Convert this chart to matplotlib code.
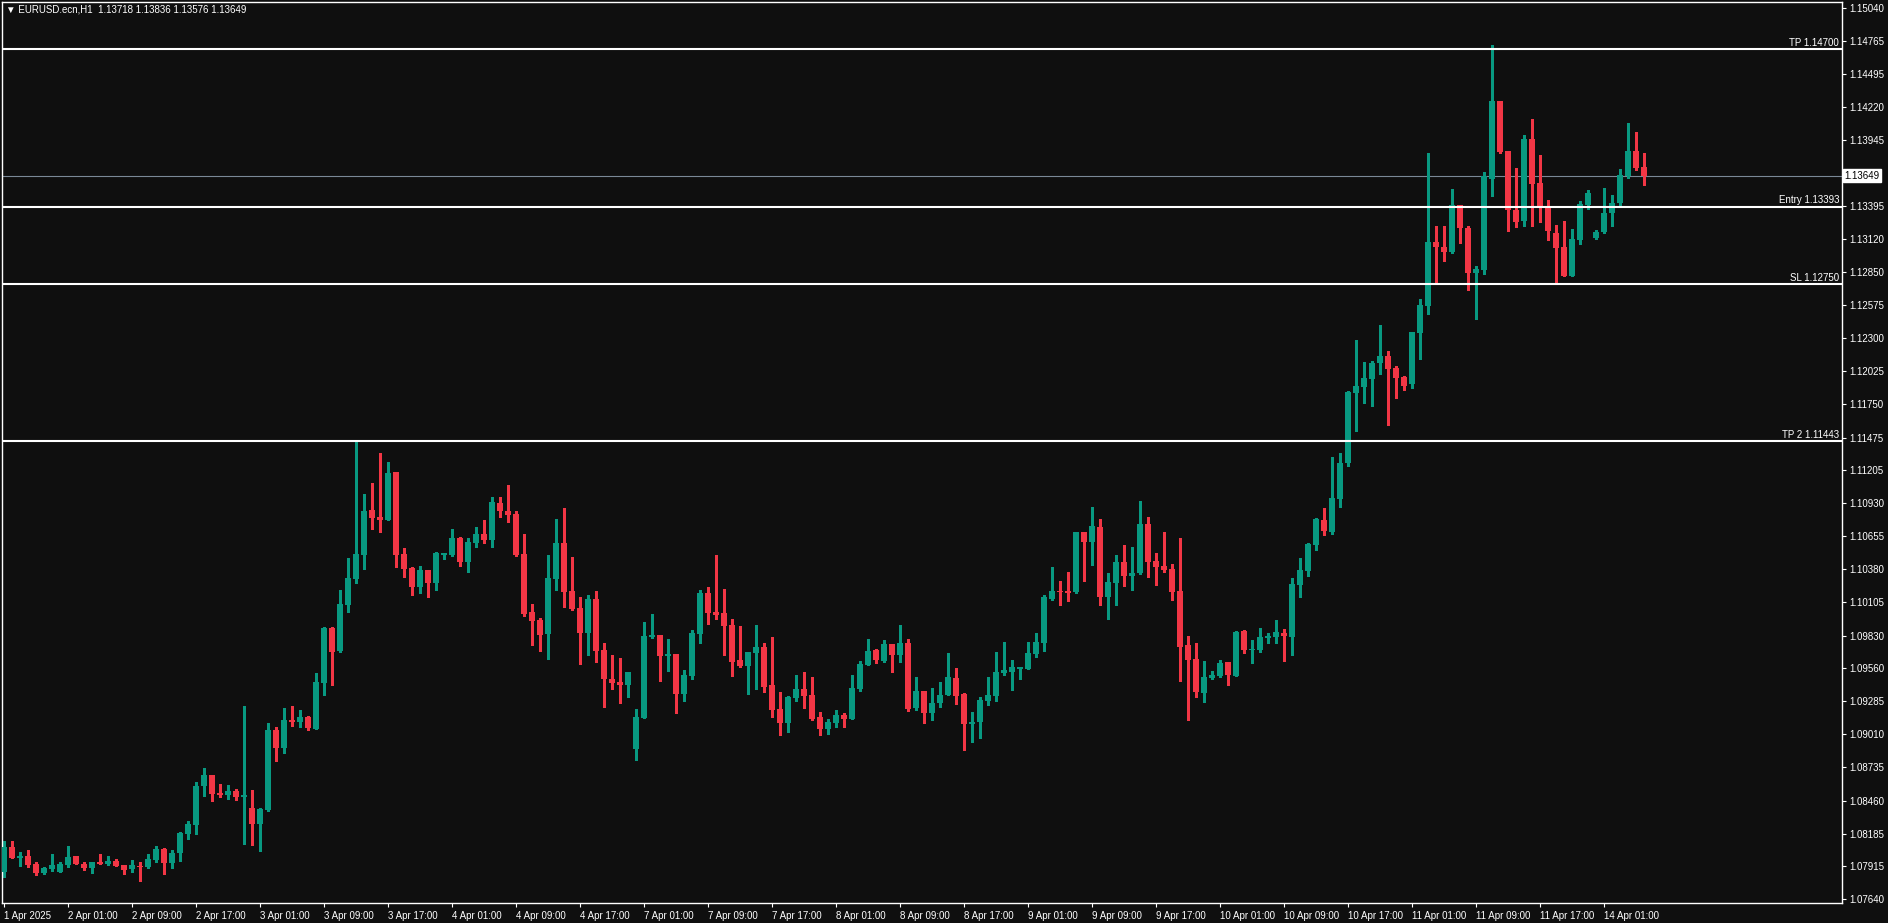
import numpy as np
import matplotlib
matplotlib.use("Agg")
import matplotlib.pyplot as plt

# EURUSD H1 candles (first bar = 1 Apr 17:00)
opens = [1.07870, 1.08075, 1.07984, 1.08000, 1.07934, 1.07859, 1.07892, 1.07867, 1.07926, 1.08000,
         1.07934, 1.07901, 1.07950, 1.07934, 1.07959, 1.07926, 1.07892, 1.07917, 1.07909, 1.07967,
         1.08058, 1.07942, 1.08025, 1.08183, 1.08258, 1.08582, 1.08673, 1.08523, 1.08507, 1.08540,
         1.08490, 1.08399, 1.08266, 1.08382, 1.09047, 1.08897, 1.09130, 1.09113, 1.09155, 1.09055,
         1.09437, 1.09894, 1.09703, 1.10085, 1.10301, 1.10500, 1.10874, 1.10816, 1.10791, 1.11189,
         1.10508, 1.10392, 1.10234, 1.10375, 1.10267, 1.10500, 1.10500, 1.10641, 1.10442, 1.10600,
         1.10674, 1.10624, 1.10932, 1.10865, 1.10840, 1.10508, 1.10027, 1.09960, 1.09844, 1.10301,
         1.10600, 1.10201, 1.10060, 1.09852, 1.10135, 1.09711, 1.09470, 1.09445, 1.09420, 1.08889,
         1.09146, 1.09819, 1.09836, 1.09661, 1.09678, 1.09346, 1.09495, 1.09844, 1.10185, 1.10027,
         1.10019, 1.09919, 1.09628, 1.09578, 1.09686, 1.09736, 1.09421, 1.09221, 1.09105, 1.09313,
         1.09388, 1.09338, 1.09155, 1.09055, 1.09105, 1.09172, 1.09138, 1.09388, 1.09587, 1.09711,
         1.09620, 1.09761, 1.09670, 1.09769, 1.09230, 1.09371, 1.09188, 1.09271, 1.09338, 1.09479,
         1.09346, 1.09097, 1.09113, 1.09288, 1.09329, 1.09520, 1.09529, 1.09554, 1.09554, 1.09678,
         1.09769, 1.10135, 1.10201, 1.10201, 1.10193, 1.10691, 1.10608, 1.10733, 1.10151, 1.10268,
         1.10442, 1.10326, 1.10351, 1.10758, 1.10450, 1.10409, 1.10384, 1.10201, 1.09753, 1.09637,
         1.09354, 1.09479, 1.09495, 1.09612, 1.09495, 1.09869, 1.09711, 1.09711, 1.09811, 1.09819,
         1.09852, 1.09819, 1.10251, 1.10367, 1.10583, 1.10791, 1.10691, 1.10965, 1.11264, 1.11845,
         1.11895, 1.11962, 1.12094, 1.12153, 1.12053, 1.11978, 1.11920, 1.12344, 1.12568, 1.13100,
         1.13058, 1.13017, 1.13407, 1.13216, 1.12842, 1.12867, 1.13623, 1.14270, 1.13855, 1.13365,
         1.13274, 1.13955, 1.13590, 1.13382, 1.13174, 1.13058, 1.12817, 1.13116, 1.13407, 1.13133,
         1.13183, 1.13340, 1.13423, 1.13648, 1.13855, 1.13718]

highs = [1.08125, 1.08125, 1.08034, 1.08050, 1.07950, 1.07909, 1.08017, 1.07950, 1.08083, 1.08000,
         1.07950, 1.07950, 1.08017, 1.08000, 1.07975, 1.07926, 1.07967, 1.07950, 1.08017, 1.08083,
         1.08067, 1.08050, 1.08200, 1.08291, 1.08615, 1.08731, 1.08673, 1.08598, 1.08590, 1.08557,
         1.09246, 1.08548, 1.08399, 1.09105, 1.09072, 1.09229, 1.09246, 1.09213, 1.09163, 1.09520,
         1.09902, 1.09902, 1.10209, 1.10475, 1.11438, 1.11006, 1.11098, 1.11347, 1.11272, 1.11189,
         1.10558, 1.10400, 1.10409, 1.10375, 1.10525, 1.10517, 1.10716, 1.10649, 1.10641, 1.10732,
         1.10791, 1.10982, 1.10982, 1.11081, 1.10865, 1.10674, 1.10093, 1.09977, 1.10500, 1.10799,
         1.10890, 1.10483, 1.10151, 1.10168, 1.10201, 1.09769, 1.09670, 1.09645, 1.09528, 1.09221,
         1.09944, 1.10010, 1.09836, 1.09802, 1.09678, 1.09545, 1.09877, 1.10210, 1.10234, 1.10500,
         1.10218, 1.09969, 1.09911, 1.09695, 1.09919, 1.09769, 1.09819, 1.09363, 1.09329, 1.09504,
         1.09529, 1.09487, 1.09197, 1.09138, 1.09213, 1.09188, 1.09504, 1.09620, 1.09803, 1.09720,
         1.09794, 1.09761, 1.09919, 1.09803, 1.09487, 1.09371, 1.09396, 1.09446, 1.09686, 1.09562,
         1.09354, 1.09197, 1.09321, 1.09487, 1.09695, 1.09778, 1.09628, 1.09570, 1.09778, 1.09852,
         1.10168, 1.10401, 1.10284, 1.10359, 1.10691, 1.10691, 1.10899, 1.10799, 1.10351, 1.10500,
         1.10583, 1.10567, 1.10949, 1.10816, 1.10517, 1.10691, 1.10426, 1.10641, 1.09828, 1.09769,
         1.09620, 1.09537, 1.09628, 1.09612, 1.09869, 1.09877, 1.09794, 1.09894, 1.09852, 1.09960,
         1.09886, 1.10309, 1.10475, 1.10600, 1.10807, 1.10891, 1.11314, 1.11347, 1.11862, 1.12285,
         1.12103, 1.12111, 1.12410, 1.12194, 1.12070, 1.11987, 1.12352, 1.12626, 1.13839, 1.13232,
         1.13232, 1.13540, 1.13407, 1.13232, 1.12900, 1.13681, 1.14735, 1.14270, 1.13855, 1.13714,
         1.13988, 1.14121, 1.13822, 1.13448, 1.13241, 1.13274, 1.13208, 1.13440, 1.13531, 1.13199,
         1.13548, 1.13490, 1.13706, 1.14088, 1.14013, 1.13836]

lows = [1.07829, 1.07984, 1.07917, 1.07909, 1.07842, 1.07851, 1.07876, 1.07867, 1.07909, 1.07934,
        1.07884, 1.07859, 1.07934, 1.07926, 1.07917, 1.07851, 1.07867, 1.07793, 1.07901, 1.07950,
        1.07851, 1.07901, 1.07959, 1.08141, 1.08183, 1.08499, 1.08457, 1.08490, 1.08474, 1.08465,
        1.08100, 1.08092, 1.08042, 1.08374, 1.08789, 1.08856, 1.09080, 1.09072, 1.09047, 1.09055,
        1.09337, 1.09420, 1.09694, 1.10027, 1.10267, 1.10384, 1.10716, 1.10691, 1.10791, 1.10400,
        1.10317, 1.10168, 1.10184, 1.10151, 1.10209, 1.10467, 1.10492, 1.10409, 1.10359, 1.10566,
        1.10600, 1.10566, 1.10816, 1.10774, 1.10492, 1.09993, 1.09753, 1.09703, 1.09636, 1.10209,
        1.10068, 1.10043, 1.09595, 1.09670, 1.09611, 1.09238, 1.09387, 1.09271, 1.09321, 1.08798,
        1.09146, 1.09811, 1.09454, 1.09537, 1.09188, 1.09288, 1.09470, 1.09769, 1.09927, 1.09969,
        1.09670, 1.09495, 1.09570, 1.09346, 1.09388, 1.09363, 1.09155, 1.09006, 1.09030, 1.09288,
        1.09230, 1.09130, 1.09006, 1.09014, 1.09072, 1.09072, 1.09138, 1.09371, 1.09587, 1.09603,
        1.09612, 1.09529, 1.09612, 1.09205, 1.09213, 1.09105, 1.09130, 1.09238, 1.09338, 1.09263,
        1.08881, 1.08947, 1.08981, 1.09255, 1.09288, 1.09504, 1.09379, 1.09470, 1.09554, 1.09653,
        1.09703, 1.10127, 1.10085, 1.10118, 1.10185, 1.10284, 1.10417, 1.10085, 1.09969, 1.10085,
        1.10243, 1.10210, 1.10342, 1.10318, 1.10251, 1.10359, 1.10127, 1.09454, 1.09130, 1.09321,
        1.09280, 1.09470, 1.09487, 1.09421, 1.09495, 1.09686, 1.09603, 1.09695, 1.09769, 1.09769,
        1.09620, 1.09670, 1.10151, 1.10326, 1.10542, 1.10666, 1.10675, 1.10899, 1.11239, 1.11530,
        1.11762, 1.11737, 1.12003, 1.11580, 1.11804, 1.11870, 1.11887, 1.12128, 1.12502, 1.12759,
        1.12942, 1.13008, 1.13091, 1.12701, 1.12460, 1.12834, 1.13482, 1.13839, 1.13191, 1.13224,
        1.13232, 1.13232, 1.13266, 1.13116, 1.12759, 1.12817, 1.12817, 1.13083, 1.13374, 1.13125,
        1.13174, 1.13232, 1.13399, 1.13631, 1.13697, 1.13576]

closes = [1.08075, 1.07984, 1.08000, 1.07926, 1.07859, 1.07901, 1.07926, 1.07934, 1.07992, 1.07934,
          1.07901, 1.07950, 1.07934, 1.07959, 1.07917, 1.07884, 1.07926, 1.07909, 1.07975, 1.08058,
          1.07942, 1.08025, 1.08191, 1.08266, 1.08582, 1.08673, 1.08515, 1.08507, 1.08540, 1.08490,
          1.08507, 1.08266, 1.08391, 1.09047, 1.08897, 1.09130, 1.09113, 1.09155, 1.09063, 1.09445,
          1.09894, 1.09694, 1.10093, 1.10309, 1.10508, 1.10865, 1.10807, 1.10791, 1.11181, 1.10500,
          1.10384, 1.10234, 1.10375, 1.10267, 1.10517, 1.10517, 1.10641, 1.10442, 1.10608, 1.10674,
          1.10624, 1.10940, 1.10865, 1.10832, 1.10500, 1.10010, 1.09952, 1.09836, 1.10309, 1.10600,
          1.10193, 1.10052, 1.09852, 1.10135, 1.09703, 1.09470, 1.09437, 1.09420, 1.09528, 1.09155,
          1.09827, 1.09836, 1.09661, 1.09678, 1.09346, 1.09504, 1.09852, 1.10185, 1.10019, 1.10002,
          1.09911, 1.09612, 1.09578, 1.09695, 1.09736, 1.09404, 1.09213, 1.09105, 1.09321, 1.09388,
          1.09329, 1.09138, 1.09055, 1.09113, 1.09172, 1.09138, 1.09396, 1.09595, 1.09703, 1.09628,
          1.09761, 1.09670, 1.09769, 1.09221, 1.09371, 1.09188, 1.09271, 1.09338, 1.09487, 1.09329,
          1.09097, 1.09113, 1.09296, 1.09338, 1.09529, 1.09545, 1.09570, 1.09570, 1.09686, 1.09778,
          1.10151, 1.10201, 1.10193, 1.10185, 1.10691, 1.10608, 1.10741, 1.10151, 1.10276, 1.10442,
          1.10326, 1.10351, 1.10758, 1.10442, 1.10401, 1.10376, 1.10193, 1.09736, 1.09628, 1.09363,
          1.09487, 1.09504, 1.09603, 1.09504, 1.09861, 1.09711, 1.09720, 1.09819, 1.09828, 1.09861,
          1.09828, 1.10259, 1.10376, 1.10592, 1.10799, 1.10700, 1.10973, 1.11264, 1.11854, 1.11904,
          1.11970, 1.12094, 1.12153, 1.12045, 1.11970, 1.11904, 1.12352, 1.12576, 1.13100, 1.13058,
          1.13017, 1.13407, 1.13216, 1.12842, 1.12875, 1.13648, 1.14270, 1.13847, 1.13365, 1.13266,
          1.13955, 1.13581, 1.13382, 1.13191, 1.13050, 1.12817, 1.13125, 1.13415, 1.13506, 1.13183,
          1.13340, 1.13423, 1.13656, 1.13855, 1.13714, 1.13649]

# time labels every 8 bars
time_labels = ["1 Apr 2025", "2 Apr 01:00", "2 Apr 09:00", "2 Apr 17:00", "3 Apr 01:00",
               "3 Apr 09:00", "3 Apr 17:00", "4 Apr 01:00", "4 Apr 09:00", "4 Apr 17:00",
               "7 Apr 01:00", "7 Apr 09:00", "7 Apr 17:00", "8 Apr 01:00", "8 Apr 09:00",
               "8 Apr 17:00", "9 Apr 01:00", "9 Apr 09:00", "9 Apr 17:00", "10 Apr 01:00",
               "10 Apr 09:00", "10 Apr 17:00", "11 Apr 01:00", "11 Apr 09:00", "11 Apr 17:00",
               "14 Apr 01:00"]

price_ticks = [1.15040, 1.14765, 1.14495, 1.14220, 1.13945, 1.13395, 1.13120, 1.12850,
               1.12575, 1.12300, 1.12025, 1.11750, 1.11475, 1.11205, 1.10930, 1.10655,
               1.10380, 1.10105, 1.09830, 1.09560, 1.09285, 1.09010, 1.08735, 1.08460,
               1.08185, 1.07915, 1.07640]

level_names = ["TP", "Entry", "SL", "TP 2"]
level_prices = [1.14700, 1.13393, 1.12750, 1.11443]
last_price = 1.13649

BG = "#0f0f0f"
BULL = "#089981"
BEAR = "#f23645"
FONT = ["Liberation Sans", "DejaVu Sans"]

plt.rcParams["font.family"] = FONT
plt.rcParams["font.size"] = 7

fig = plt.figure(figsize=(18.88, 9.23), dpi=100, facecolor=BG)
ax = fig.add_axes([2 / 1888, 20 / 923, 1840 / 1888, 901 / 923], facecolor=BG)

o = np.array(opens)
h = np.array(highs)
l = np.array(lows)
c = np.array(closes)
x = np.arange(len(o))
cols = [BULL if cc >= oo else BEAR for oo, cc in zip(o, c)]

# wicks then bodies
ax.vlines(x, l, h, colors=cols, linewidth=0.75, antialiased=False, zorder=2)
body = np.maximum(np.abs(c - o), 0.00009)
ax.bar(x, body, bottom=np.minimum(o, c), width=0.7, color=cols,
       linewidth=0, antialiased=False, zorder=3)

# order levels
ytr = ax.get_yaxis_transform()
for name, p in zip(level_names, level_prices):
    ax.axhline(p, color="white", linewidth=1.5, zorder=4)
    ax.text(0.9985, p + 0.00012, "%s %.5f" % (name, p), transform=ytr,
            ha="right", va="bottom", color="white", fontsize=7, zorder=5)

# current price line + box
ax.axhline(last_price, color="#7a8896", linewidth=0.8, zorder=1)
ax.text(1.0012, last_price, "%.5f" % last_price, transform=ytr, ha="left", va="center",
        color="black", fontsize=7, zorder=6, clip_on=False,
        bbox=dict(boxstyle="square,pad=0.15", facecolor="white", edgecolor="white"))

ax.set_xlim(-0.25, 229.75)
ax.set_ylim(1.07609, 1.15092)

ax.yaxis.tick_right()
ax.set_yticks(price_ticks)
ax.set_yticklabels(["%.5f" % t for t in price_ticks])
ax.set_xticks(np.arange(len(time_labels)) * 8)
ax.set_xticklabels(time_labels)
for t in ax.get_xticklabels():
    t.set_horizontalalignment("left")
ax.tick_params(colors="white", labelcolor="white", length=3, width=0.8, labelsize=7, pad=2)
ax.tick_params(axis="x", pad=3)

for s in ax.spines.values():
    s.set_color("white")
    s.set_linewidth(1)

fig.text(6 / 1888, 1 - 10 / 923, "\u25bc EURUSD.ecn,H1  1.13718 1.13836 1.13576 1.13649",
         color="white", fontsize=7, va="center", ha="left", family=FONT)

fig.savefig("out.png", dpi=100, facecolor=BG)
